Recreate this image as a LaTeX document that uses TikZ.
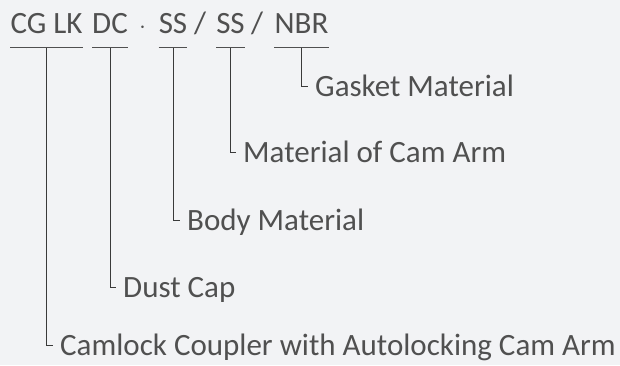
\documentclass[tikz,border=0pt]{standalone}
\usepackage{fontspec}
\setmainfont{Carlito}
\usetikzlibrary{positioning}
\definecolor{bg}{HTML}{F2F3F5}
\definecolor{ink}{HTML}{505050}
\definecolor{wire}{HTML}{3A3A3A}

\begin{document}
\begin{tikzpicture}[x=1pt,y=-1pt,
		every node/.style={inner sep=0pt,text=ink,font=\fontsize{31}{37}\selectfont},
		code/.style={anchor=base},
		lbl/.style={anchor=base west},
		rule/.style={draw=ink,line width=1pt},
		link/.style={draw=wire,line width=1pt}]
	\fill[bg] (0,0) rectangle (620,365);
	\useasboundingbox (0,0) rectangle (620,365);

	% part code
	\node[code] (cglk) at (46.5,33)  {CG LK};
	\node[code] (dc)   at (110,33)   {DC};
	\node[code] (dot)  at (142.5,33) {$\cdot$};
	\node[code] (ss1)  at (173,33)   {SS};
	\node[code] (sl1)  at (200,33)   {/};
	\node[code] (ss2)  at (230.5,33) {SS};
	\node[code] (sl2)  at (257,33)   {/};
	\node[code] (nbr)  at (301.5,33) {NBR};
	\coordinate (ul) at (0,47.5);

	% meanings
	\node[lbl] (gasket)  at (315,96)  {Gasket Material};
	\node[lbl] (armmat)  at (243,162) {Material of Cam Arm};
	\node[lbl] (bodymat) at (187,230) {Body Material};
	\node[lbl] (dustcap) at (123,297) {Dust Cap};
	\node[lbl] (coupler) at (60,355)  {Camlock Coupler with Autolocking Cam Arm};

	\foreach \p in {cglk,dc,ss1,ss2,nbr}
		\draw[rule] (\p.west |- ul) -- (\p.east |- ul);

	\foreach \p/\l in {cglk/coupler,dc/dustcap,ss1/bodymat,ss2/armmat,nbr/gasket}
		\draw[link] (\p.south |- ul) |- ([shift={(-7,-10)}]\l.base west);
\end{tikzpicture}
\end{document}
